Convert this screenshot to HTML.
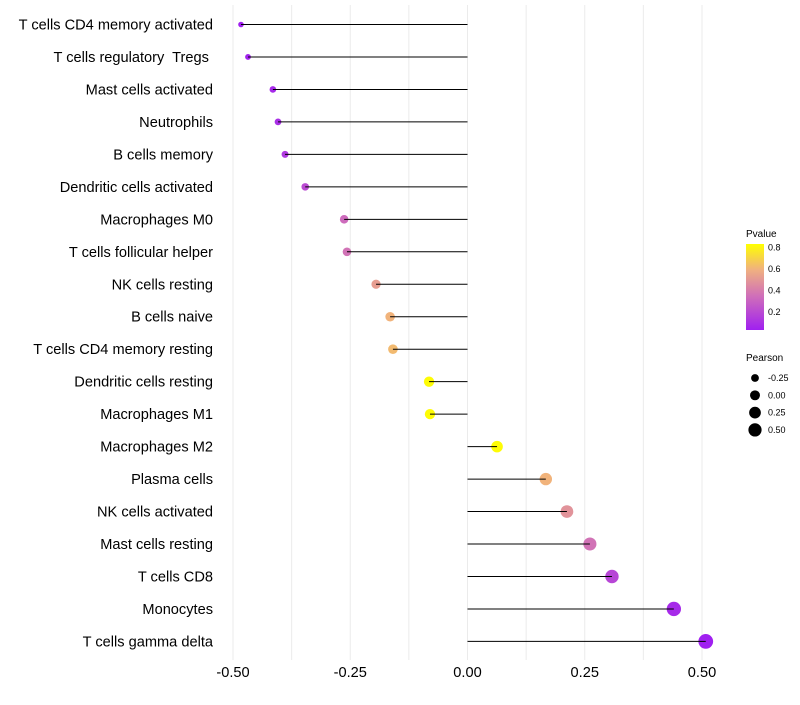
<!DOCTYPE html>
<html><head><meta charset="utf-8"><style>body{margin:0;background:#fff;font-family:"Liberation Sans",sans-serif}</style></head>
<body>
<svg id="c" width="800" height="700" xmlns="http://www.w3.org/2000/svg"></svg>
<script>
const categories=["T cells CD4 memory activated","T cells regulatory\u00a0 Tregs\u00a0","Mast cells activated","Neutrophils","B cells memory","Dendritic cells activated","Macrophages M0","T cells follicular helper","NK cells resting","B cells naive","T cells CD4 memory resting","Dendritic cells resting","Macrophages M1","Macrophages M2","Plasma cells","NK cells activated","Mast cells resting","T cells CD8","Monocytes","T cells gamma delta"];
const pearson=[-0.483,-0.468,-0.415,-0.404,-0.389,-0.346,-0.263,-0.257,-0.195,-0.165,-0.159,-0.082,-0.080,0.063,0.167,0.212,0.261,0.308,0.440,0.508];
const pvalues=[0.03,0.04,0.07,0.09,0.13,0.2,0.33,0.36,0.52,0.6,0.62,0.82,0.82,0.82,0.6,0.48,0.36,0.18,0.07,0.03];
const xTicks=[-0.5,-0.25,0,0.25,0.5];
const xTickLabels=["-0.50","-0.25","0.00","0.25","0.50"];
const legendP=[0.8,0.6,0.4,0.2];
const legendSizes=[-0.25,0,0.25,0.5];
const legendSizeLabels=["-0.25","0.00","0.25","0.50"];
const svg=document.getElementById('c');const NS="http://www.w3.org/2000/svg";
function mk(t,a,p){const e=document.createElementNS(NS,t);for(const k in a)e.setAttribute(k,a[k]);(p||svg).appendChild(e);return e;}
const X=v=>467.5+v*469;
const Y=i=>24.5+i*32.47;
const R=v=>Math.sqrt(7+47*(v+0.5));
const pMin=0.03,pMax=0.83;
const stops=[[0,[160,32,240]],[0.4,[208,112,184]],[0.7,[240,176,128]],[1,[255,255,0]]];
function col(p){let t=Math.max(0,Math.min(1,(p-pMin)/(pMax-pMin)));for(let i=1;i<stops.length;i++){if(t<=stops[i][0]){const a=stops[i-1],b=stops[i];const f=(t-a[0])/(b[0]-a[0]);const c=a[1].map((v,j)=>Math.round(v+(b[1][j]-v)*f));return `rgb(${c})`;}}return 'rgb(255,255,0)';}
for(let v=-0.5;v<=0.501;v+=0.125){const g=mk('line',{x1:X(v),x2:X(v),y1:5,y2:660,stroke:'#ebebeb','stroke-width':1});

}
xTicks.forEach((v,i)=>{const t=mk('text',{x:X(v),y:677,'text-anchor':'middle','font-size':14.6,fill:'#000'});t.textContent=xTickLabels[i];

});
categories.forEach((c,i)=>{const t=mk('text',{x:213,y:Y(i)+5,'text-anchor':'end','font-size':14.6,fill:'#000'});t.textContent=c;


const d=mk('circle',{cx:X(pearson[i]),cy:Y(i),r:R(pearson[i]),fill:col(pvalues[i])});


const s=mk('line',{x1:X(0),x2:X(pearson[i]),y1:Y(i),y2:Y(i),stroke:'#000','stroke-width':1});

});
const lt=mk('text',{x:746,y:237,'font-size':10});lt.textContent='Pvalue';


const defs=mk('defs',{});const lg=mk('linearGradient',{id:'g',x1:0,y1:1,x2:0,y2:0},defs);
for(let k=0;k<=10;k++){const p=pMin+(pMax-pMin)*k/10;mk('stop',{offset:k/10,'stop-color':col(p)},lg);}
const cb=mk('rect',{x:746,y:244,width:18,height:86,fill:'url(#g)'});


const cy=p=>330-(p-pMin)/(pMax-pMin)*86;
legendP.forEach(p=>{const t=mk('text',{x:768,y:cy(p)+3.5,'font-size':9});t.textContent=p.toFixed(1);

});
const st=mk('text',{x:746,y:361,'font-size':10});st.textContent='Pearson';


legendSizes.forEach((v,i)=>{const yy=378+i*17.3;const c=mk('circle',{cx:755,cy:yy,r:R(v)*0.9,fill:'#000'});


const t=mk('text',{x:768,y:yy+3,'font-size':9});t.textContent=legendSizeLabels[i];

});
</script>
</body></html>
